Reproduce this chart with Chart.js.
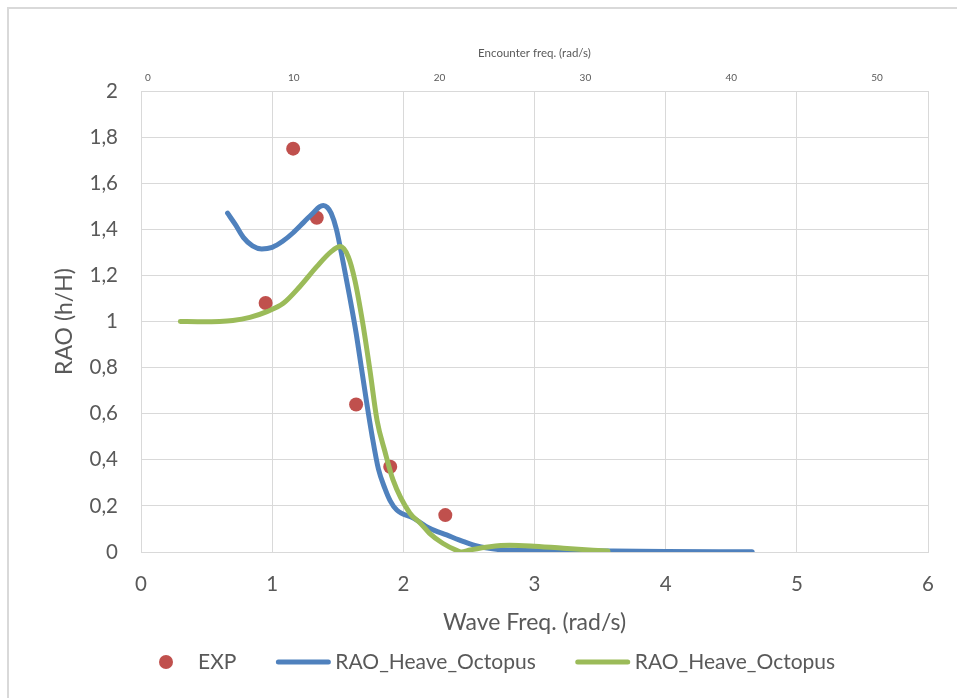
<!DOCTYPE html>
<html>
<head>
<meta charset="utf-8">
<script src="https://cdn.jsdelivr.net/npm/chart.js@4.4.1/dist/chart.umd.min.js"></script>
<style>
  html, body { margin: 0; padding: 0; background: #ffffff; }
  #wrap { position: relative; width: 957px; height: 698px; overflow: hidden; }
  #wrap canvas { position: absolute; left: 0; top: 0; }
  #frame { position: absolute; left: 7px; top: 7px; right: -4px; bottom: -4px;
           border-left: 2px solid #d9d9d9; border-top: 2px solid #d9d9d9; pointer-events: none; }
</style>
</head>
<body>
<div id="wrap">
  <canvas id="rao" width="957" height="698"></canvas>
  <div id="frame"></div>
</div>
<script>
// Experimental heave RAO
const expFreq = [0.95, 1.16, 1.34, 1.64, 1.90, 2.32];
const expRao  = [1.08, 1.75, 1.45, 0.64, 0.37, 0.16];

// Octopus heave RAO, first run
const octoFreqA = [0.66, 0.72, 0.78, 0.85, 0.92, 1.00, 1.08, 1.16, 1.24, 1.31, 1.36, 1.39, 1.42, 1.45,
                   1.49, 1.54, 1.59, 1.64, 1.68, 1.72, 1.76, 1.81, 1.86, 1.90, 1.95, 2.08, 2.20, 2.33,
                   2.46, 2.56, 2.71, 2.86, 3.20, 3.60, 4.00, 4.66];
const octoRaoA  = [1.47, 1.42, 1.365, 1.328, 1.315, 1.322, 1.348, 1.385, 1.43, 1.47, 1.497, 1.503, 1.495, 1.47,
                   1.40, 1.26, 1.11, 0.95, 0.80, 0.65, 0.51, 0.36, 0.275, 0.222, 0.182, 0.146, 0.103, 0.074,
                   0.045, 0.026, 0.012, 0.008, 0.005, 0.004, 0.002, 0.001];

// Octopus heave RAO, second run
const octoFreqB = [0.30, 0.45, 0.60, 0.70, 0.83, 0.96, 1.085, 1.21, 1.34, 1.45, 1.52, 1.58, 1.63, 1.69,
                   1.745, 1.80, 1.86, 1.92, 2.05, 2.13, 2.20, 2.30, 2.41, 2.44, 2.51, 2.66, 2.81, 2.97,
                   3.22, 3.56];
const octoRaoB  = [1.0, 0.999, 1.0, 1.004, 1.018, 1.043, 1.079, 1.151, 1.238, 1.303, 1.325, 1.281, 1.18, 0.995,
                   0.79, 0.57, 0.435, 0.315, 0.168, 0.125, 0.081, 0.038, 0.006, 0.0, 0.009, 0.023, 0.029, 0.026,
                   0.016, 0.004];

const waveTicks = [0, 1, 2, 3, 4, 5, 6];
const encounterTicks = [0, 10, 20, 30, 40, 50];
const raoTicks = [0, 0.2, 0.4, 0.6, 0.8, 1, 1.2, 1.4, 1.6, 1.8, 2];

const seriesNames = ['EXP', 'RAO_Heave_Octopus', 'RAO_Heave_Octopus'];

const TEXT = '#595959';
const GRID = '#d9d9d9';
const FAMILY = 'Lato, "Open Sans", sans-serif';

const pairs = (xs, ys) => xs.map((x, i) => ({ x: x, y: ys[i] }));
const fixTicks = list => scale => { scale.ticks = list.map(v => ({ value: v })); };

// Legend row under the axis title: marker slot, label, spacing
const legendRow = {
  id: 'legendRow',
  afterDraw(chart) {
    const ctx = chart.ctx;
    const y = 662;
    const slot = 56;
    let x = chart.chartArea.left - 3;
    ctx.save();
    ctx.font = '21px ' + FAMILY;
    ctx.textBaseline = 'middle';
    ctx.textAlign = 'left';
    chart.data.datasets.forEach(ds => {
      if (ds.showLine) {
        ctx.strokeStyle = ds.borderColor;
        ctx.lineWidth = 5;
        ctx.lineCap = 'round';
        ctx.beginPath();
        ctx.moveTo(x + 3, y);
        ctx.lineTo(x + slot - 3, y);
        ctx.stroke();
      } else {
        ctx.fillStyle = ds.backgroundColor;
        ctx.beginPath();
        ctx.arc(x + slot / 2, y, 7, 0, Math.PI * 2);
        ctx.fill();
      }
      const tx = x + slot + 4;
      ctx.fillStyle = TEXT;
      ctx.fillText(ds.label, tx, y);
      x = tx + ctx.measureText(ds.label).width + 39;
    });
    ctx.restore();
  }
};

const curveStyle = {
  showLine: true,
  borderWidth: 5,
  borderCapStyle: 'round',
  borderJoinStyle: 'round',
  cubicInterpolationMode: 'monotone',
  pointRadius: 0,
  pointHoverRadius: 0
};

new Chart(document.getElementById('rao'), {
  type: 'scatter',
  data: {
    datasets: [
      {
        label: seriesNames[0],
        data: pairs(expFreq, expRao),
        showLine: false,
        backgroundColor: '#C0504D',
        borderColor: '#C0504D',
        pointRadius: 7,
        pointHoverRadius: 7,
        pointBorderWidth: 0,
        order: 3
      },
      Object.assign({
        label: seriesNames[1],
        data: pairs(octoFreqA, octoRaoA),
        borderColor: '#4F81BD',
        backgroundColor: '#4F81BD',
        order: 2
      }, curveStyle),
      Object.assign({
        label: seriesNames[2],
        data: pairs(octoFreqB, octoRaoB),
        borderColor: '#9BBB59',
        backgroundColor: '#9BBB59',
        order: 1
      }, curveStyle)
    ]
  },
  options: {
    responsive: false,
    animation: false,
    devicePixelRatio: 1,
    layout: { padding: { left: 0, right: 29, top: 0, bottom: 53 } },
    plugins: {
      legend: { display: false },
      tooltip: { enabled: false }
    },
    scales: {
      x: {
        type: 'linear',
        position: 'bottom',
        min: 0,
        max: 6,
        afterBuildTicks: fixTicks(waveTicks),
        afterFit: s => { s.height = 93; },
        grid: { color: GRID, lineWidth: 1, drawTicks: false },
        border: { color: GRID, width: 1 },
        ticks: { color: TEXT, padding: 20, maxRotation: 0, font: { family: FAMILY, size: 20.5 } },
        title: {
          display: true,
          text: 'Wave Freq. (rad/s)',
          color: TEXT,
          font: { family: FAMILY, size: 23 },
          padding: { top: 0, bottom: 9 }
        }
      },
      x2: {
        type: 'linear',
        position: 'top',
        min: -0.48,
        max: 53.5,
        afterBuildTicks: fixTicks(encounterTicks),
        afterFit: s => { s.height = 91; },
        grid: { display: false, drawTicks: false },
        border: { display: false },
        ticks: { color: TEXT, padding: 7, maxRotation: 0, font: { family: FAMILY, size: 10 } },
        title: {
          display: true,
          text: 'Encounter freq. (rad/s)',
          color: TEXT,
          font: { family: FAMILY, size: 11.5 },
          padding: { top: 46, bottom: 0 }
        }
      },
      y: {
        type: 'linear',
        position: 'left',
        min: 0,
        max: 2,
        afterBuildTicks: fixTicks(raoTicks),
        afterFit: s => { s.width = 141; },
        grid: { color: GRID, lineWidth: 1, drawTicks: false },
        border: { color: GRID, width: 1 },
        ticks: {
          color: TEXT,
          padding: 23,
          font: { family: FAMILY, size: 20.5 },
          callback: v => String(v).replace('.', ',')
        },
        title: {
          display: true,
          text: 'RAO (h/H)',
          color: TEXT,
          font: { family: FAMILY, size: 23 },
          padding: { top: 51, bottom: 0 }
        }
      }
    }
  },
  plugins: [legendRow]
});
</script>
</body>
</html>
